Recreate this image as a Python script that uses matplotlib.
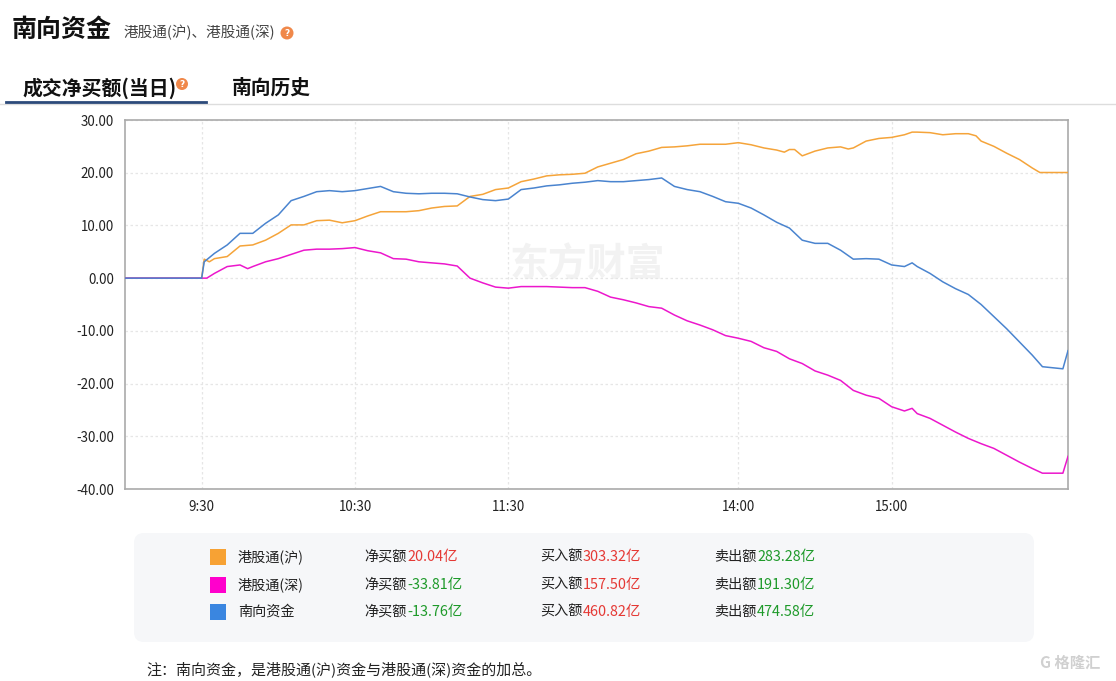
import matplotlib
matplotlib.use("Agg")
import matplotlib.pyplot as plt
from matplotlib.patches import FancyBboxPatch, Circle, Rectangle
from matplotlib.lines import Line2D
import matplotlib.transforms as mtransforms

plt.rcParams['font.family'] = ['Noto Sans CJK SC', 'DejaVu Sans']

# ---------------- data ----------------
# x = minutes from 9:00 with lunch break (12:00-13:00) removed
tick_pos = [30, 90, 150, 240, 300]
tick_labels = ['9:30', '10:30', '11:30', '14:00', '15:00']
y_ticks = [30, 20, 10, 0, -10, -20, -30, -40]

t_hu = [0, 30, 31, 33, 35, 40, 45, 50, 55, 60, 65, 70, 75, 80, 85, 90, 95, 100,
        105, 110, 115, 120, 125, 130, 135, 140, 145, 150, 155, 160, 165, 170,
        175, 180, 185, 190, 195, 200, 205, 210, 215, 220, 225, 230, 235, 240,
        245, 250, 255, 258, 260, 262, 265, 270, 275, 280, 283, 285, 290, 295,
        300, 305, 308, 310, 315, 320, 325, 330, 333, 335, 340, 345, 350, 355,
        358, 369]
v_hu = [0, 0, 3.6, 3.1, 3.7, 4.1, 6.1, 6.3, 7.2, 8.5, 10.1, 10.1, 10.9, 11.0,
        10.5, 10.9, 11.8, 12.6, 12.6, 12.6, 12.8, 13.3, 13.6, 13.7, 15.5, 15.9,
        16.8, 17.1, 18.3, 18.8, 19.4, 19.6, 19.7, 19.9, 21.1, 21.8, 22.5, 23.6,
        24.1, 24.8, 24.9, 25.1, 25.4, 25.4, 25.4, 25.7, 25.3, 24.7, 24.3, 23.9,
        24.4, 24.4, 23.2, 24.1, 24.7, 24.9, 24.5, 24.7, 26.0, 26.5, 26.7, 27.2,
        27.7, 27.7, 27.6, 27.2, 27.4, 27.4, 27.0, 26.0, 25.0, 23.7, 22.5, 20.9,
        20.04, 20.04]

t_sz = [0, 30, 32, 35, 40, 45, 48, 50, 55, 60, 65, 70, 75, 80, 85, 90, 95, 100,
        105, 110, 115, 120, 125, 130, 135, 140, 145, 150, 155, 160, 165, 170,
        175, 180, 185, 190, 195, 200, 205, 210, 215, 220, 225, 230, 235, 240,
        245, 250, 255, 260, 265, 270, 275, 280, 285, 290, 295, 300, 305, 308,
        310, 315, 320, 325, 330, 335, 340, 345, 350, 355, 359, 367, 369]
v_sz = [0, 0, 0, 0.9, 2.2, 2.5, 1.8, 2.2, 3.1, 3.7, 4.5, 5.3, 5.5, 5.5, 5.6,
        5.8, 5.2, 4.8, 3.7, 3.6, 3.1, 2.9, 2.7, 2.3, 0.0, -0.9, -1.7, -1.9,
        -1.6, -1.6, -1.6, -1.7, -1.8, -1.8, -2.5, -3.6, -4.1, -4.7, -5.4, -5.7,
        -7.0, -8.1, -8.9, -9.8, -10.9, -11.4, -12.0, -13.2, -13.9, -15.3,
        -16.2, -17.6, -18.4, -19.4, -21.3, -22.2, -22.8, -24.4, -25.2, -24.7,
        -25.7, -26.6, -27.9, -29.2, -30.4, -31.4, -32.3, -33.6, -34.9, -36.1,
        -37.0, -37.0, -33.81]

t_nx = [0, 30, 31, 35, 40, 45, 50, 55, 60, 65, 70, 75, 80, 85, 90, 95, 100,
        105, 110, 115, 120, 125, 130, 135, 140, 145, 150, 155, 160, 165, 170,
        175, 180, 185, 190, 195, 200, 205, 210, 215, 220, 225, 230, 235, 240,
        245, 250, 255, 260, 265, 270, 275, 280, 285, 290, 295, 300, 305, 308,
        310, 315, 320, 325, 330, 335, 340, 345, 350, 355, 359, 367, 369]
v_nx = [0, 0, 3.1, 4.7, 6.3, 8.5, 8.5, 10.4, 12.0, 14.7, 15.5, 16.4, 16.6,
        16.4, 16.6, 17.0, 17.4, 16.4, 16.1, 16.0, 16.1, 16.1, 16.0, 15.4, 14.9,
        14.7, 15.0, 16.8, 17.1, 17.5, 17.7, 18.0, 18.2, 18.5, 18.3, 18.3, 18.5,
        18.7, 19.0, 17.4, 16.8, 16.4, 15.5, 14.5, 14.2, 13.3, 12.0, 10.6, 9.5,
        7.2, 6.6, 6.6, 5.3, 3.6, 3.7, 3.6, 2.5, 2.2, 2.9, 2.2, 0.9, -0.7, -2.0,
        -3.1, -5.0, -7.3, -9.6, -12.1, -14.6, -16.8, -17.2, -13.76]

series_names = ['港股通(沪)', '港股通(深)', '南向资金']
net_buy = ['20.04', '-33.81', '-13.76']
buy_amt = ['303.32', '157.50', '460.82']
sell_amt = ['283.28', '191.30', '474.58']

line_colors = ['#f5a43a', '#ec17cc', '#4a84cf']
box_colors = ['#f7a234', '#ff00cc', '#3a86e0']
RED = '#e53935'
GREEN = '#1e9a2a'

# ---------------- figure ----------------
W, H = 1116, 681
fig = plt.figure(figsize=(W / 100, H / 100), dpi=100)
fig.patch.set_facecolor('white')
PX = mtransforms.Affine2D().scale(1 / 100, -1 / 100).translate(0, H / 100) + fig.dpi_scale_trans


def txt(x, y, s, **kw):
    kw.setdefault('va', 'center')
    return fig.text(x, y, s, transform=PX, **kw)


def qmark(x, y, r=6.5):
    fig.patches.append(Circle((x, y), r, transform=PX, facecolor='#f0884a',
                              edgecolor='none', figure=fig))
    txt(x, y + 0.5, '?', ha='center', fontsize=6.5, color='white',
        fontweight='bold', family=['DejaVu Sans'])


# header
txt(12, 30, '南向资金', fontsize=18, fontweight='bold', color='#111111')
txt(124, 32, '港股通(沪)、港股通(深)', fontsize=10.5, color='#444444')
qmark(287, 33)

txt(22, 88, '成交净买额(当日)', fontsize=14.3, fontweight='bold', color='#111111')
qmark(182, 84, 6)
txt(232, 88, '南向历史', fontsize=14.2, fontweight='bold', color='#111111')
fig.lines.append(Line2D([0, W], [103.5, 103.5], transform=PX, color='#dddddd', lw=1))
fig.lines.append(Line2D([6, 206], [101.5, 101.5], transform=PX, color='#2c4a7a', lw=2))

# axes
left, right, top, bottom = 125, 1068, 120, 489
ax = fig.add_axes([left / W, 1 - bottom / H, (right - left) / W, (bottom - top) / H])
ax.set_xlim(0, 369)
ax.set_ylim(-40, 30)
ax.set_yticks(y_ticks)
ax.set_yticklabels([f'{v:.2f}' for v in y_ticks])
ax.set_xticks(tick_pos)
ax.set_xticklabels(tick_labels)
ax.tick_params(length=0, labelsize=9.6, colors='#222222')
ax.tick_params(axis='y', pad=8)
ax.tick_params(axis='x', pad=8)
for s in ax.spines.values():
    s.set_color('#aaaaaa')
    s.set_linewidth(1.2)
ax.grid(True, color='#e6e6e6', linestyle=(0, (2, 2)), linewidth=0.9)
ax.set_axisbelow(True)

# watermark
ax.text(0.49, 0.607, '东方财富', transform=ax.transAxes, ha='center', va='center',
        fontsize=28, fontweight='bold', color='#f2f2f2', zorder=0)

ax.plot(t_hu, v_hu, color=line_colors[0], lw=1.1, zorder=3)
ax.plot(t_sz, v_sz, color=line_colors[1], lw=1.1, zorder=3)
ax.plot(t_nx, v_nx, color=line_colors[2], lw=1.1, zorder=4)

# legend box
fig.patches.append(FancyBboxPatch((134, 533), 900, 109, transform=PX,
                                  boxstyle='round,pad=0,rounding_size=10',
                                  facecolor='#f6f7f9', edgecolor='none', figure=fig))
rows_y = [557, 585, 612]
for i, y in enumerate(rows_y):
    fig.patches.append(Rectangle((210, y - 8), 16, 16, transform=PX,
                                 facecolor=box_colors[i], edgecolor='none', figure=fig))
    txt(238, y, series_names[i], fontsize=10.2, color='#222222')
    c_net = RED if not net_buy[i].startswith('-') else GREEN
    txt(364, y, '净买额', fontsize=10.2, color='#222222')
    txt(407, y, net_buy[i] + '亿', fontsize=10.4, color=c_net)
    txt(540, y, '买入额', fontsize=10.2, color='#222222')
    txt(583, y, buy_amt[i] + '亿', fontsize=10.4, color=RED)
    txt(714, y, '卖出额', fontsize=10.2, color='#222222')
    txt(757, y, sell_amt[i] + '亿', fontsize=10.4, color=GREEN)

txt(146, 669, '注：南向资金，是港股通(沪)资金与港股通(深)资金的加总。', fontsize=10.8,
    color='#222222')
txt(1040, 663, 'G 格隆汇', fontsize=11, color='#d0d0d0', fontweight='bold')

fig.savefig('out.png', dpi=100)
